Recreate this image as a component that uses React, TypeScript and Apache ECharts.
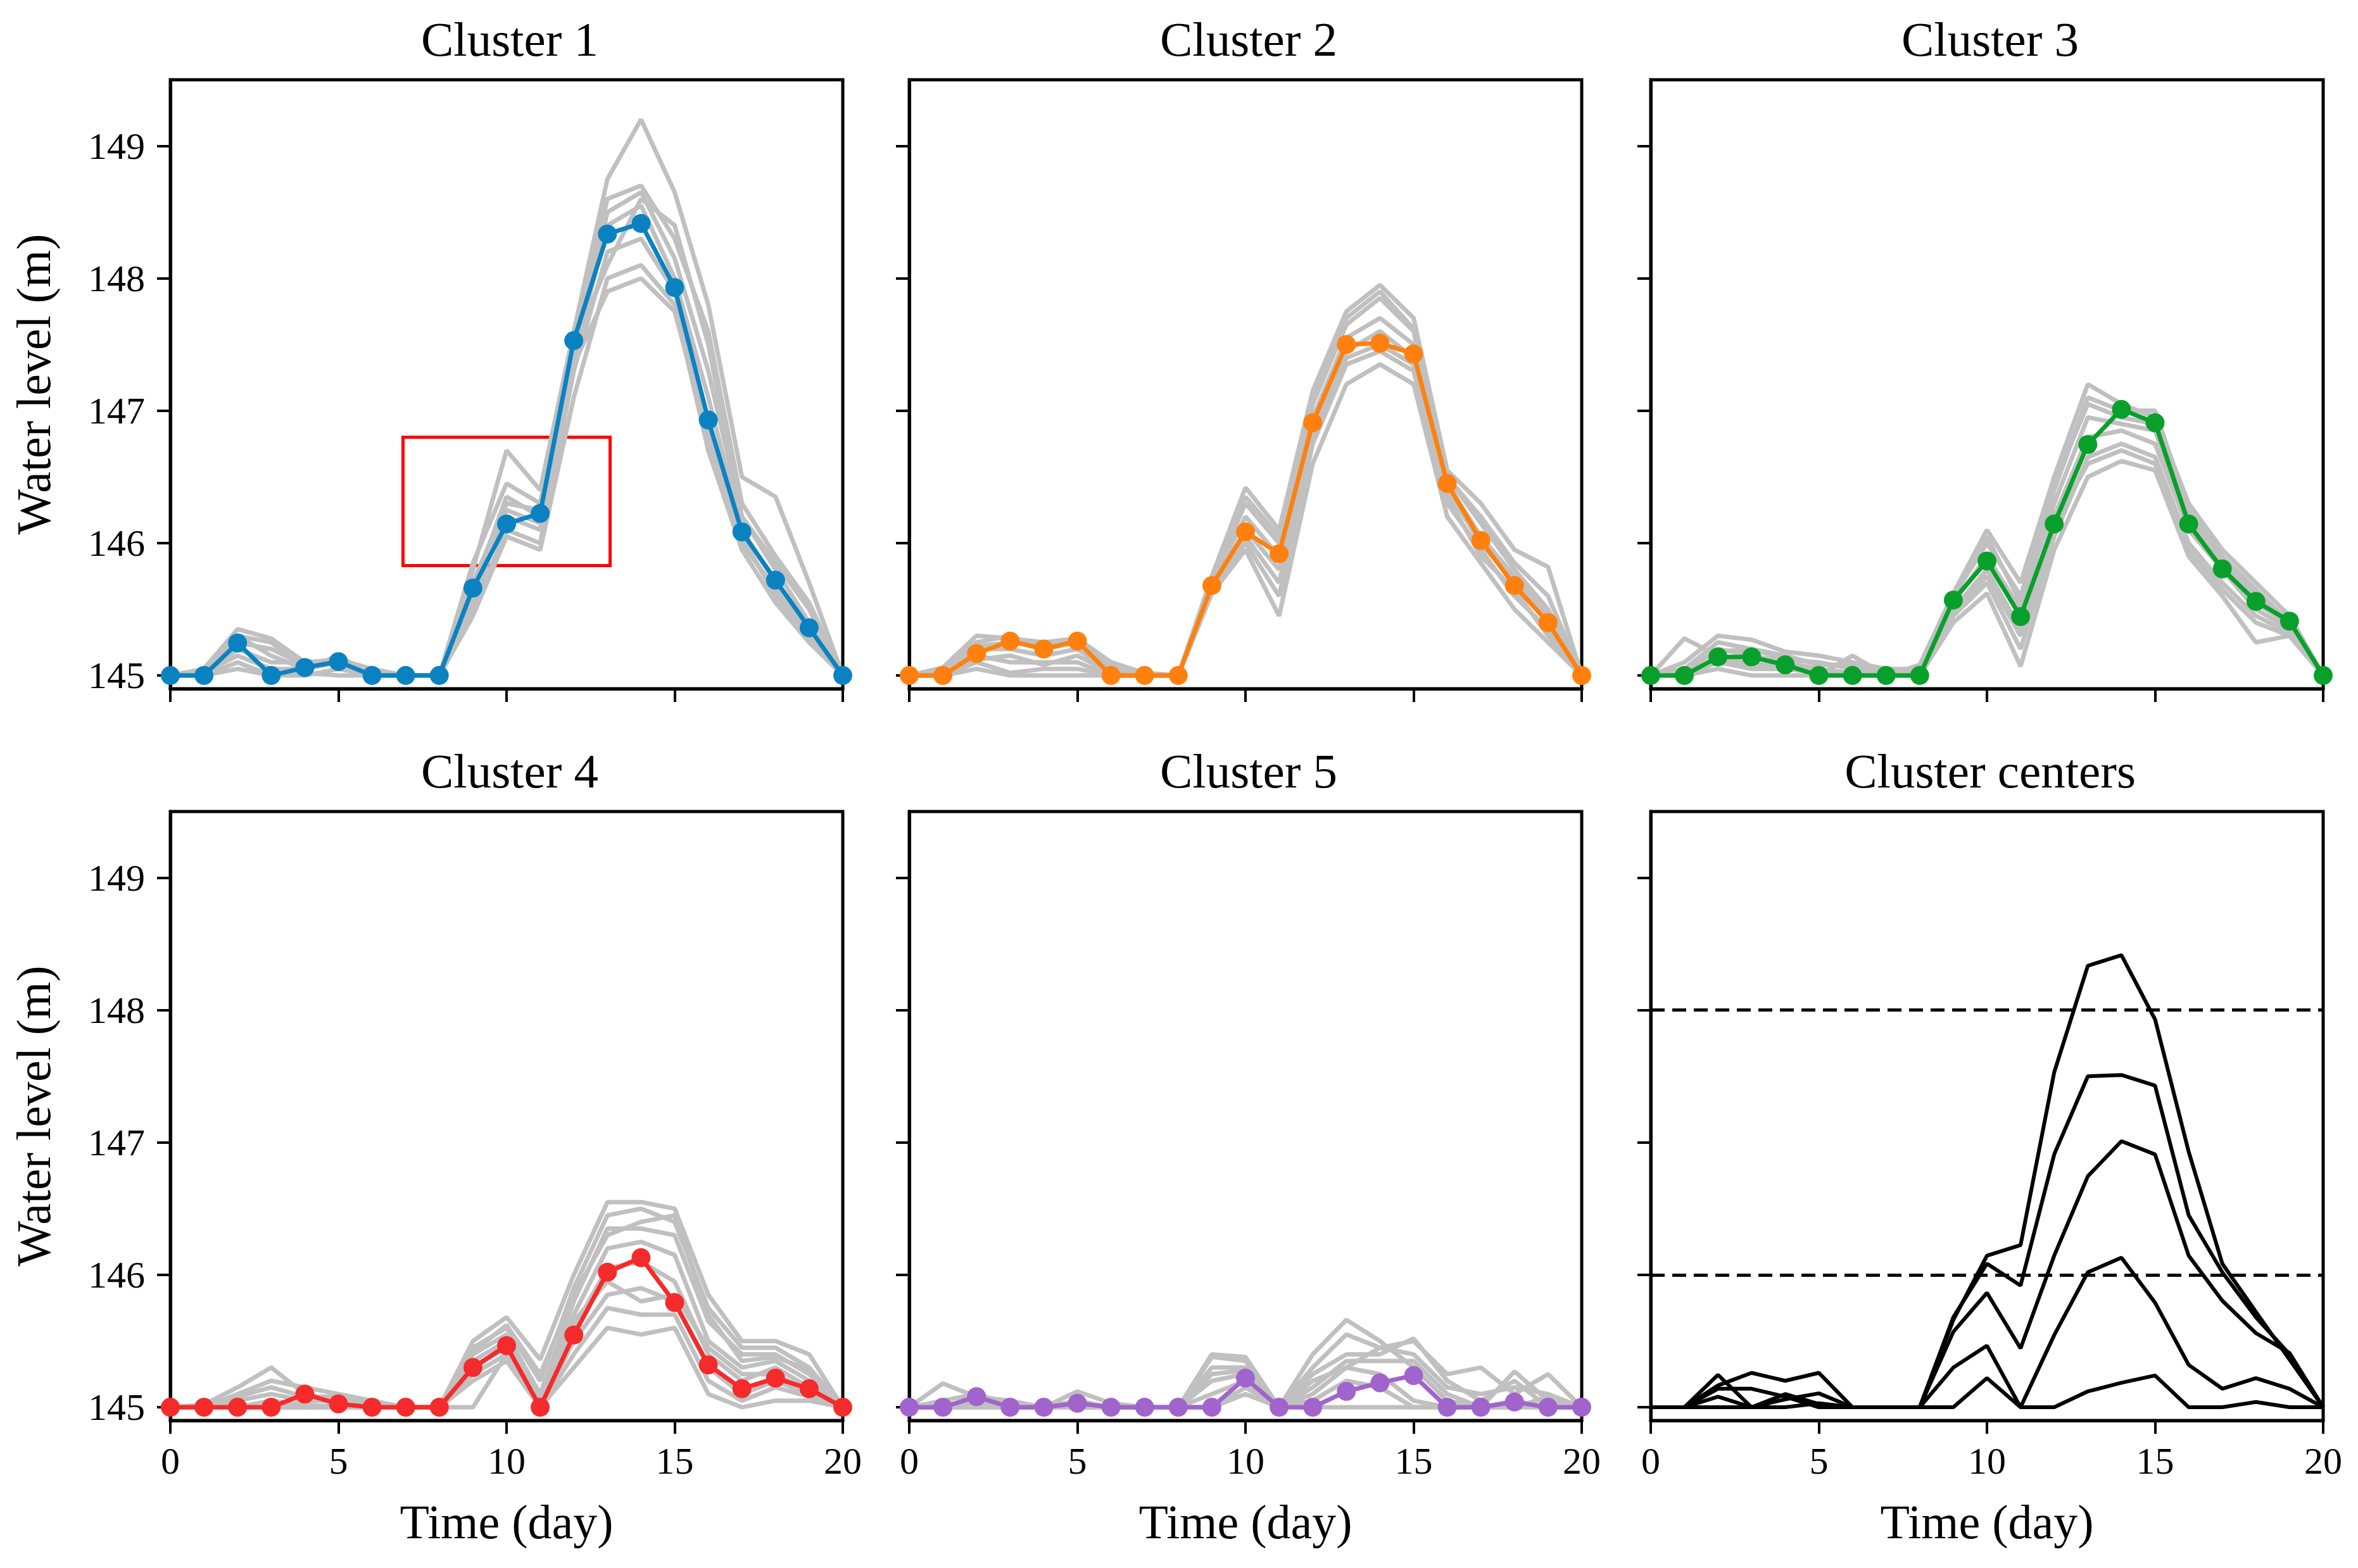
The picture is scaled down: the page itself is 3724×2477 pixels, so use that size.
import React, { useEffect, useRef } from "react";
import * as echarts from "echarts";

const days = [0, 1, 2, 3, 4, 5, 6, 7, 8, 9, 10, 11, 12, 13, 14, 15, 16, 17, 18, 19, 20];
const xTicks = [0, 5, 10, 15, 20];
const yTicks = [145, 146, 147, 148, 149];
const titles = ["Cluster 1", "Cluster 2", "Cluster 3", "Cluster 4", "Cluster 5", "Cluster centers"];
const clusterColors = ["#0a82c2", "#ff800e", "#08a02a", "#f52a2a", "#a164cc"];
const thresholds = [146, 148];

// cluster centres (coloured lines with markers)
const center1 = [145, 145, 145.245, 145, 145.06, 145.105, 145, 145, 145, 145.66, 146.145, 146.225, 147.53, 148.335, 148.415, 147.93, 146.93, 146.085, 145.72, 145.36, 145];
const center2 = [145, 145, 145.165, 145.26, 145.2, 145.26, 145, 145, 145, 145.68, 146.085, 145.92, 146.91, 147.5, 147.51, 147.43, 146.45, 146.02, 145.68, 145.4, 145];
const center3 = [145, 145, 145.14, 145.14, 145.08, 145, 145, 145, 145, 145.57, 145.865, 145.445, 146.145, 146.745, 147.01, 146.91, 146.145, 145.805, 145.56, 145.41, 145];
const center4 = [145, 145, 145, 145, 145.1, 145.025, 145, 145, 145, 145.3, 145.465, 145, 145.545, 146.02, 146.13, 145.79, 145.32, 145.14, 145.22, 145.14, 145];
const center5 = [145, 145, 145.08, 145, 145, 145.03, 145, 145, 145, 145, 145.22, 145, 145, 145.12, 145.185, 145.24, 145, 145, 145.04, 145, 145];

// member series (grey)
const members1 = [
  [145, 145.05, 145.35, 145.28, 145.1, 145.12, 145.05, 145, 145, 145.8, 146.7, 146.4, 147.6, 148.75, 149.2, 148.65, 147.8, 146.5, 146.35, 145.7, 145],
  [145, 145, 145.3, 145.25, 145.05, 145.15, 145, 145, 145, 145.85, 146.45, 146.3, 147.55, 148.6, 148.7, 148.3, 147.6, 146.3, 145.9, 145.55, 145],
  [145, 145, 145.2, 145.1, 145.1, 145.08, 145, 145, 145, 145.7, 146.3, 146.25, 147.45, 148.5, 148.65, 148.15, 147.3, 146.2, 145.8, 145.4, 145],
  [145, 145.02, 145.15, 145.05, 145.05, 145.1, 145, 145, 145, 145.6, 146.2, 146.1, 147.4, 148.4, 148.55, 148.0, 147.1, 146.1, 145.7, 145.35, 145],
  [145, 145, 145.1, 145, 145, 145.05, 145, 145, 145, 145.5, 146.1, 146.0, 147.3, 148.2, 148.3, 147.9, 146.9, 146.0, 145.65, 145.3, 145],
  [145, 145, 145.05, 145, 145.02, 145, 145, 145, 145, 145.45, 146.05, 145.95, 147.1, 148.0, 148.1, 147.8, 146.7, 145.95, 145.55, 145.25, 145],
  [145, 145, 145.25, 145.2, 145.08, 145.12, 145.03, 145, 145, 145.55, 146.25, 146.15, 147.5, 148.1, 148.6, 148.4, 147.5, 146.2, 145.85, 145.5, 145],
  [145, 145, 145.3, 145.15, 145.05, 145.1, 145, 145, 145, 145.65, 146.35, 146.2, 147.35, 147.9, 148.0, 147.75, 146.8, 146.05, 145.6, 145.3, 145],
];
const members2 = [
  [145, 145.06, 145.3, 145.28, 145.25, 145.28, 145.1, 145.02, 145, 145.75, 146.42, 146.1, 147.15, 147.75, 147.95, 147.7, 146.55, 146.3, 145.95, 145.82, 145],
  [145, 145.05, 145.25, 145.3, 145.2, 145.25, 145.05, 145, 145, 145.72, 146.3, 146.0, 147.05, 147.65, 147.85, 147.6, 146.5, 146.15, 145.8, 145.5, 145],
  [145, 145.03, 145.2, 145.2, 145.15, 145.2, 145.03, 145, 145, 145.7, 146.2, 145.9, 146.95, 147.55, 147.7, 147.5, 146.45, 146.05, 145.75, 145.45, 145],
  [145, 145, 145.15, 145.1, 145.1, 145.1, 145, 145, 145, 145.68, 146.1, 145.8, 146.85, 147.45, 147.6, 147.4, 146.4, 146.0, 145.7, 145.4, 145],
  [145, 145, 145.1, 145.02, 145.05, 145.05, 145, 145, 145, 145.65, 146.0, 145.6, 146.75, 147.35, 147.45, 147.3, 146.3, 145.95, 145.6, 145.35, 145],
  [145, 145, 145.05, 145, 145, 145, 145, 145, 145, 145.62, 145.95, 145.45, 146.6, 147.2, 147.35, 147.2, 146.2, 145.85, 145.5, 145.25, 145],
  [145, 145.02, 145.22, 145.25, 145.22, 145.27, 145.08, 145, 145, 145.73, 146.35, 146.05, 147.1, 147.7, 147.9, 147.62, 146.5, 146.2, 145.85, 145.6, 145],
  [145, 145, 145.12, 145.15, 145.08, 145.15, 145.02, 145, 145, 145.66, 146.05, 145.7, 146.8, 147.4, 147.5, 147.35, 146.35, 145.9, 145.65, 145.3, 145],
];
const members3 = [
  [145, 145.28, 145.15, 145.05, 145.1, 145, 145.15, 145, 145.08, 145.62, 146.1, 145.7, 146.5, 147.2, 147.05, 146.95, 146.3, 145.95, 145.7, 145.45, 145],
  [145, 145.1, 145.3, 145.27, 145.18, 145.15, 145.1, 145.05, 145.05, 145.6, 146.0, 145.6, 146.4, 147.1, 147.0, 147.0, 146.25, 145.9, 145.65, 145.4, 145],
  [145, 145.05, 145.25, 145.2, 145.12, 145.1, 145.05, 145, 145.03, 145.55, 145.9, 145.5, 146.3, 146.95, 146.9, 146.85, 146.15, 145.85, 145.55, 145.38, 145],
  [145, 145.02, 145.2, 145.15, 145.1, 145.05, 145.02, 145, 145, 145.5, 145.8, 145.35, 146.2, 146.8, 146.85, 146.75, 146.1, 145.8, 145.5, 145.35, 145],
  [145, 145, 145.1, 145.05, 145.05, 145.02, 145, 145, 145, 145.45, 145.7, 145.2, 146.05, 146.65, 146.75, 146.65, 146.0, 145.7, 145.45, 145.32, 145],
  [145, 145, 145.05, 145, 145, 145, 145, 145, 145, 145.4, 145.62, 145.07, 145.95, 146.5, 146.62, 146.55, 145.9, 145.6, 145.25, 145.3, 145],
  [145, 145.05, 145.18, 145.2, 145.15, 145.08, 145.08, 145.02, 145.02, 145.58, 146.05, 145.55, 146.45, 147.05, 146.95, 146.9, 146.2, 145.9, 145.6, 145.42, 145],
  [145, 145, 145.12, 145.1, 145.05, 145.05, 145, 145, 145, 145.48, 145.75, 145.3, 146.15, 146.6, 146.7, 146.6, 145.95, 145.65, 145.4, 145.3, 145],
];
const members4 = [
  [145, 145.02, 145.15, 145.3, 145.1, 145.05, 145, 145, 145, 145.5, 145.68, 145.36, 146.0, 146.55, 146.55, 146.5, 145.85, 145.5, 145.5, 145.4, 145],
  [145, 145, 145.1, 145.2, 145.15, 145.1, 145.05, 145, 145, 145.45, 145.6, 145.2, 145.9, 146.45, 146.5, 146.4, 145.75, 145.45, 145.45, 145.3, 145],
  [145, 145, 145.05, 145.1, 145.05, 145.05, 145, 145, 145, 145.4, 145.55, 145.1, 145.8, 146.35, 146.35, 146.3, 145.65, 145.4, 145.4, 145.25, 145],
  [145, 145, 145, 145.05, 145.02, 145, 145, 145, 145, 145.35, 145.5, 145.05, 145.7, 146.2, 146.25, 146.15, 145.5, 145.3, 145.35, 145.2, 145],
  [145, 145, 145.02, 145, 145, 145.02, 145, 145, 145, 145.3, 145.45, 145.02, 145.6, 146.05, 146.1, 145.95, 145.4, 145.2, 145.3, 145.15, 145],
  [145, 145, 145, 145, 145, 145, 145, 145, 145, 145.25, 145.4, 145, 145.5, 145.85, 145.9, 145.8, 145.3, 145.1, 145.2, 145.1, 145],
  [145, 145, 145, 145, 145, 145, 145, 145, 145, 145.2, 145.35, 145, 145.4, 145.75, 145.7, 145.7, 145.2, 145.05, 145.15, 145.08, 145],
  [145, 145, 145, 145, 145, 145, 145, 145, 145, 145, 145.4, 145, 145.3, 145.6, 145.55, 145.6, 145.1, 145, 145.05, 145.05, 145],
  [145, 145, 145.08, 145.15, 145.08, 145.08, 145.02, 145, 145, 145.42, 145.62, 145.25, 145.85, 146.3, 146.4, 146.45, 145.7, 145.35, 145.38, 145.28, 145],
  [145, 145, 145, 145.02, 145, 145, 145, 145, 145, 145.28, 145.48, 145.08, 145.65, 145.95, 145.8, 145.85, 145.45, 145.25, 145.25, 145.12, 145],
];
const members5 = [
  [145, 145.18, 145.08, 145.05, 145, 145.12, 145.03, 145, 145, 145.4, 145.38, 145, 145.4, 145.66, 145.5, 145.3, 145.05, 145, 145.27, 145.05, 145],
  [145, 145.05, 145.1, 145.02, 145, 145.05, 145, 145, 145, 145.38, 145.35, 145, 145.3, 145.55, 145.45, 145.5, 145.25, 145.3, 145.1, 145.25, 145],
  [145, 145, 145.05, 145, 145.02, 145, 145, 145, 145, 145.3, 145.3, 145, 145.25, 145.4, 145.4, 145.52, 145.2, 145.05, 145.2, 145, 145],
  [145, 145, 145, 145, 145, 145, 145, 145, 145, 145.2, 145.25, 145, 145.15, 145.35, 145.35, 145.35, 145.1, 145, 145.05, 145, 145],
  [145, 145, 145.02, 145, 145, 145.02, 145, 145, 145, 145.1, 145.2, 145, 145.1, 145.3, 145.25, 145.05, 145, 145, 145, 145.08, 145],
  [145, 145, 145, 145, 145, 145, 145, 145, 145, 145, 145.15, 145, 145.05, 145.2, 145.15, 145, 145, 145, 145, 145, 145],
  [145, 145, 145, 145, 145, 145, 145, 145, 145, 145, 145.1, 145, 145, 145, 145, 145, 145, 145, 145, 145, 145],
  [145, 145.02, 145.04, 145.02, 145, 145.04, 145, 145, 145, 145.25, 145.28, 145, 145.2, 145.3, 145.45, 145.4, 145.15, 145.1, 145.15, 145.1, 145],
];
// highlighted region in cluster 1 (x from, x to, y top, y bottom)
const highlightBox = [6.92, 13.08, 146.8, 145.83];

const centers = [center1, center2, center3, center4, center5];
const members = [members1, members2, members3, members4, members5];

const FONT = "Liberation Serif";
const colLeft = [269, 1436, 2607];
const rowTop = [126, 1282];
const gridW = 1062;
const gridH = 962;

const toPts = (vals: number[]) => days.map((d, i) => [d, vals[i]]);

function buildOption() {
  const grid: any[] = [];
  const xAxis: any[] = [];
  const yAxis: any[] = [];
  const title: any[] = [];
  const series: any[] = [];
  for (let p = 0; p < 6; p++) {
    const row = Math.floor(p / 3);
    const col = p % 3;
    grid.push({
      left: colLeft[col],
      top: rowTop[row],
      width: gridW,
      height: gridH,
      show: true,
      borderColor: "#000",
      borderWidth: 5,
      backgroundColor: "transparent",
      containLabel: false,
    });
    title.push({
      text: titles[p],
      left: colLeft[col] + gridW / 2,
      top: rowTop[row] - 108,
      textAlign: "center",
      textStyle: { fontFamily: FONT, fontSize: 77, fontWeight: "normal", color: "#000" },
    });
    xAxis.push({
      type: "value",
      gridIndex: p,
      min: 0,
      max: 20,
      interval: 5,
      axisLine: { show: true, lineStyle: { color: "#000", width: 5 } },
      axisTick: { show: true, inside: false, length: 21, customValues: xTicks, lineStyle: { color: "#000", width: 4 } },
      axisLabel: {
        show: row === 1,
        customValues: xTicks,
        fontFamily: FONT,
        fontSize: 60,
        color: "#000",
        margin: 34,
      },
      splitLine: { show: false },
      name: row === 1 ? "Time (day)" : "",
      nameLocation: "middle",
      nameGap: 122,
      nameTextStyle: { fontFamily: FONT, fontSize: 76, color: "#000" },
    });
    yAxis.push({
      type: "value",
      gridIndex: p,
      min: 144.9,
      max: 149.5,
      axisLine: { show: true, lineStyle: { color: "#000", width: 5 } },
      axisTick: { show: true, inside: false, length: 21, customValues: yTicks, lineStyle: { color: "#000", width: 4 } },
      axisLabel: {
        show: col === 0,
        customValues: yTicks,
        fontFamily: FONT,
        fontSize: 60,
        color: "#000",
        margin: 40,
      },
      splitLine: { show: false },
      name: col === 0 ? "Water level (m)" : "",
      nameLocation: "middle",
      nameRotate: 90,
      nameGap: 178,
      nameTextStyle: { fontFamily: FONT, fontSize: 76, color: "#000" },
    });
  }

  for (let c = 0; c < 5; c++) {
    members[c].forEach((m, k) => {
      series.push({
        type: "line",
        name: `c${c + 1}m${k + 1}`,
        xAxisIndex: c,
        yAxisIndex: c,
        data: toPts(m),
        symbol: "none",
        silent: true,
        z: 2,
        lineStyle: { color: "#c0c0c0", width: 7 },
      });
    });
    const s: any = {
      type: "line",
      name: titles[c],
      xAxisIndex: c,
      yAxisIndex: c,
      data: toPts(centers[c]),
      symbol: "circle",
      symbolSize: 30,
      showAllSymbol: true,
      z: 3,
      itemStyle: { color: clusterColors[c] },
      lineStyle: { color: clusterColors[c], width: 7 },
    };
    if (c === 0) {
      s.markArea = {
        silent: true,
        itemStyle: { color: "rgba(0,0,0,0)", borderColor: "#ff0000", borderWidth: 5 },
        data: [[
          { xAxis: highlightBox[0], yAxis: highlightBox[2] },
          { xAxis: highlightBox[1], yAxis: highlightBox[3] },
        ]],
      };
    }
    series.push(s);
  }

  centers.forEach((cv, c) => {
    const s: any = {
      type: "line",
      name: `center ${c + 1}`,
      xAxisIndex: 5,
      yAxisIndex: 5,
      data: toPts(cv),
      symbol: "none",
      z: 3,
      lineStyle: { color: "#000", width: 6 },
    };
    if (c === 0) {
      s.markLine = {
        silent: true,
        symbol: ["none", "none"],
        label: { show: false },
        lineStyle: { color: "#000", width: 5, type: [22, 12] },
        data: thresholds.map((t) => ({ yAxis: t })),
      };
    }
    series.push(s);
  });

  return {
    animation: false,
    backgroundColor: "#fff",
    title,
    grid,
    xAxis,
    yAxis,
    series,
  };
}

export default function App() {
  const ref = useRef<HTMLDivElement>(null);
  useEffect(() => {
    if (!ref.current) return;
    const chart = echarts.init(ref.current, null, { renderer: "svg" });
    chart.setOption(buildOption() as any);
    return () => chart.dispose();
  }, []);
  return (
    <div
      ref={ref}
      style={{ position: "absolute", left: 0, top: 0, width: 3724, height: 2477, background: "#fff" }}
    />
  );
}
